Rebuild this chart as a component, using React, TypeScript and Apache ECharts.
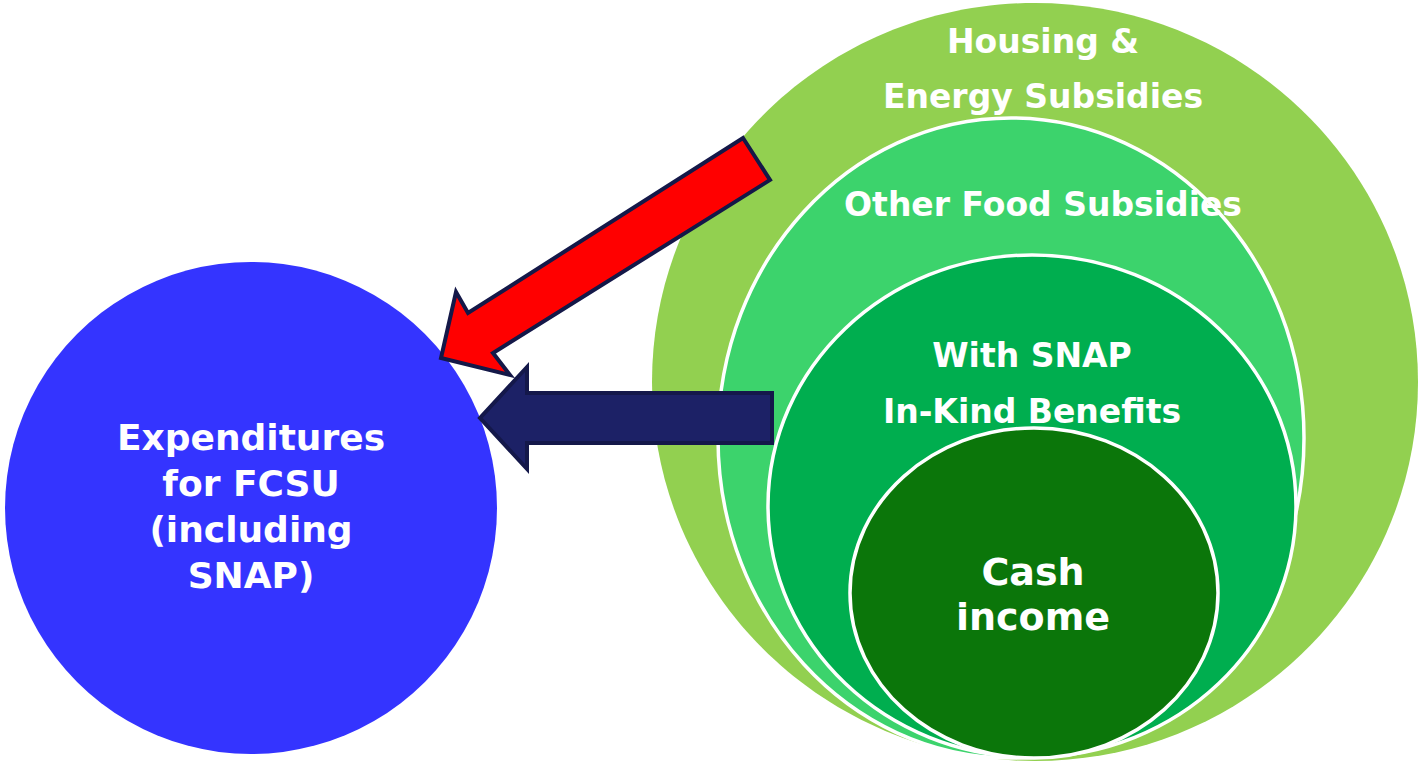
import React, { useEffect, useRef } from "react";
import * as echarts from "echarts";

// Text content
const leftLabel: string[] = ["Expenditures", "for FCSU", "(including", "SNAP)"];
const ringLabels: string[][] = [
  ["Housing &", "Energy Subsidies"],
  ["Other Food Subsidies"],
  ["With SNAP", "In-Kind Benefits"],
  ["Cash", "income"],
];
const ringColors: string[] = ["#92D050", "#3CD36C", "#00AE4F", "#0B760A"];

// Layout (pixel geometry)
const rings = [
  { cx: 1035, cy: 382, rx: 383, ry: 379, border: 0, textY: [41, 96], font: 33 },
  { cx: 1011, cy: 438, rx: 293, ry: 320, border: 3.5, textY: [204], font: 33 },
  { cx: 1032, cy: 506, rx: 264, ry: 251, border: 3.5, textY: [355, 411], font: 33 },
  { cx: 1034, cy: 593, rx: 184, ry: 165, border: 3.5, textY: [572, 617], font: 38 },
];
const ringTextX = [1043, 1043, 1032, 1033];

export default function App() {
  const ref = useRef<HTMLDivElement>(null);
  useEffect(() => {
    document.body.style.margin = "0";
    const chart = echarts.init(ref.current!, null, { renderer: "svg" });
    const font = "DejaVu Sans";
    const els: any[] = [];
    // blue circle
    els.push({
      type: "circle",
      shape: { cx: 251, cy: 508, r: 246 },
      style: { fill: "#3434FF" },
    });
    leftLabel.forEach((t, i) => {
      els.push({
        type: "text",
        x: 251,
        y: 437 + i * 46,
        style: {
          text: t,
          fill: "#ffffff",
          font: `bold 36px "${font}"`,
          align: "center",
          verticalAlign: "middle",
        },
      });
    });
    rings.forEach((r, i) => {
      els.push({
        type: "ellipse",
        shape: { cx: r.cx, cy: r.cy, rx: r.rx, ry: r.ry },
        style: {
          fill: ringColors[i],
          stroke: r.border ? "#ffffff" : "none",
          lineWidth: r.border,
        },
      });
    });
    rings.forEach((r, i) => {
      ringLabels[i].forEach((t, j) => {
        els.push({
          type: "text",
          x: ringTextX[i],
          y: r.textY[j],
          style: {
            text: t,
            fill: "#ffffff",
            font: `bold ${r.font}px "${font}"`,
            align: "center",
            verticalAlign: "middle",
          },
        });
      });
    });
    // red arrow
    els.push({
      type: "polygon",
      shape: {
        points: [
          [743, 138],
          [770, 180],
          [493, 353],
          [510, 375],
          [441, 358],
          [456, 292],
          [468, 313],
        ],
      },
      style: { fill: "#FF0000", stroke: "#141848", lineWidth: 4, lineJoin: "miter" },
    });
    // navy arrow
    els.push({
      type: "polygon",
      shape: {
        points: [
          [772, 393],
          [772, 443],
          [527, 443],
          [527, 469],
          [480, 418],
          [527, 367],
          [527, 393],
        ],
      },
      style: { fill: "#1C2166", stroke: "#14184A", lineWidth: 4, lineJoin: "miter" },
    });
    chart.setOption({
      animation: false,
      graphic: { elements: els },
    });
    return () => chart.dispose();
  }, []);
  return (
    <div
      ref={ref}
      style={{ position: "absolute", left: 0, top: 0, width: 1422, height: 763, background: "#ffffff" }}
    />
  );
}
